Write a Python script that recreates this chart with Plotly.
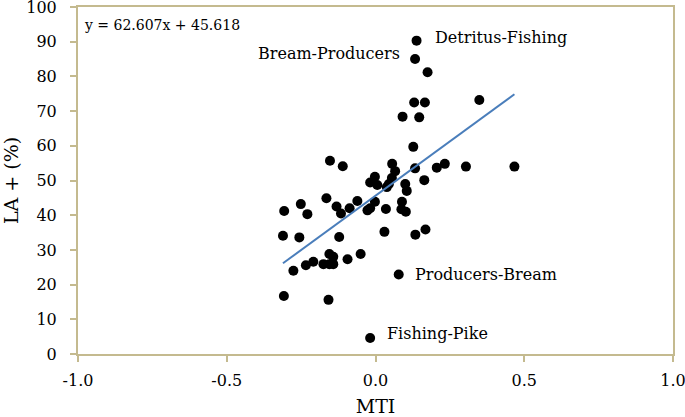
import plotly.graph_objects as go

# MTI (x) vs LA+ (%) (y)
mti = [0.138, 0.133, 0.175, 0.130, 0.166, 0.349, 0.091, 0.147, 0.127,
       -0.153, -0.110, 0.056, 0.066, 0.055, 0.133, 0.206, 0.233, 0.304, 0.467,
       -0.002, -0.018, 0.006, 0.038, 0.045, 0.100, 0.105, 0.164,
       -0.165, -0.061, -0.087, -0.131, -0.116, -0.002, -0.018, -0.027, 0.035,
       0.089, 0.087, 0.102, -0.307, -0.251, -0.229,
       -0.311, -0.256, -0.122, 0.030, 0.134, 0.168,
       -0.276, -0.234, -0.209, -0.175, -0.155, -0.142, -0.155, -0.142, -0.094, -0.050,
       0.078, -0.308, -0.158, -0.018]
la_plus = [90.3, 85.0, 81.2, 72.5, 72.5, 73.2, 68.4, 68.2, 59.7,
           55.7, 54.1, 54.8, 52.7, 50.7, 53.5, 53.7, 54.8, 54.0, 54.0,
           51.1, 49.4, 48.7, 48.1, 49.0, 49.0, 47.0, 50.1,
           44.9, 44.1, 42.0, 42.5, 40.5, 43.9, 42.0, 41.4, 41.8,
           43.9, 41.7, 41.0, 41.2, 43.2, 40.3,
           34.1, 33.6, 33.7, 35.2, 34.4, 35.9,
           24.0, 25.6, 26.6, 25.9, 28.8, 28.0, 25.9, 25.9, 27.3, 28.8,
           22.9, 16.7, 15.6, 4.6]

slope = 62.607
intercept = 45.618

x_ticks = [-1.0, -0.5, 0.0, 0.5, 1.0]
x_tick_labels = ["-1.0", "-0.5", "0.0", "0.5", "1.0"]
y_ticks = [0, 10, 20, 30, 40, 50, 60, 70, 80, 90, 100]

labels = ["Detritus-Fishing", "Bream-Producers", "Producers-Bream", "Fishing-Pike"]
label_x = [0.193, 0.088, 0.125, 0.032]
label_y = [91.1, 86.7, 22.8, 6.0]
label_anchor = ["left", "right", "left", "left"]

FONT = "DejaVu Serif"
AXIS_COLOR = "#C4BA8F"

x_lo, x_hi = min(mti), max(mti)

fig = go.Figure()
fig.add_trace(go.Scatter(
    x=mti, y=la_plus, mode="markers",
    marker=dict(color="black", size=10),
    showlegend=False,
))
fig.add_trace(go.Scatter(
    x=[x_lo, x_hi],
    y=[slope * x_lo + intercept, slope * x_hi + intercept],
    mode="lines",
    line=dict(color="#4A7EBB", width=2),
    showlegend=False,
))

for txt, lx, ly, anc in zip(labels, label_x, label_y, label_anchor):
    fig.add_annotation(x=lx, y=ly, text=txt, showarrow=False,
                       xanchor=anc, yanchor="middle",
                       font=dict(family=FONT, size=16, color="black"))

fig.add_annotation(x=-0.988, y=94.8, text=f"y = {slope}x + {intercept}",
                   showarrow=False, xanchor="left", yanchor="middle",
                   font=dict(family=FONT, size=14, color="black"))

fig.update_layout(
    width=685, height=417,
    margin=dict(l=78, r=12, t=7, b=63),
    paper_bgcolor="white", plot_bgcolor="white",
    font=dict(family=FONT, size=16, color="black"),
    xaxis=dict(
        range=[-1, 1], tickvals=x_ticks, ticktext=x_tick_labels,
        showgrid=False, zeroline=False, automargin=False,
        showline=True, mirror=True, linecolor=AXIS_COLOR, linewidth=2,
        ticks="outside", ticklen=6, tickwidth=2, tickcolor=AXIS_COLOR,
        ticklabelstandoff=5, ticklabeloverflow="allow",
        title=dict(text="MTI", font=dict(family=FONT, size=19), standoff=12),
    ),
    yaxis=dict(
        range=[0, 100], tickvals=y_ticks,
        showgrid=False, zeroline=False, automargin=False,
        showline=True, mirror=True, linecolor=AXIS_COLOR, linewidth=2,
        ticks="outside", ticklen=6, tickwidth=2, tickcolor=AXIS_COLOR,
        ticklabelstandoff=10, ticklabeloverflow="allow",
        title=dict(text="LA + (%)", font=dict(family=FONT, size=19), standoff=5),
    ),
)

# the default page has an 8px body margin; drop it so the figure sits at the origin
fig.write_html("out.html", config={"displayModeBar": False},
               post_script="document.body.style.margin = '0';")
